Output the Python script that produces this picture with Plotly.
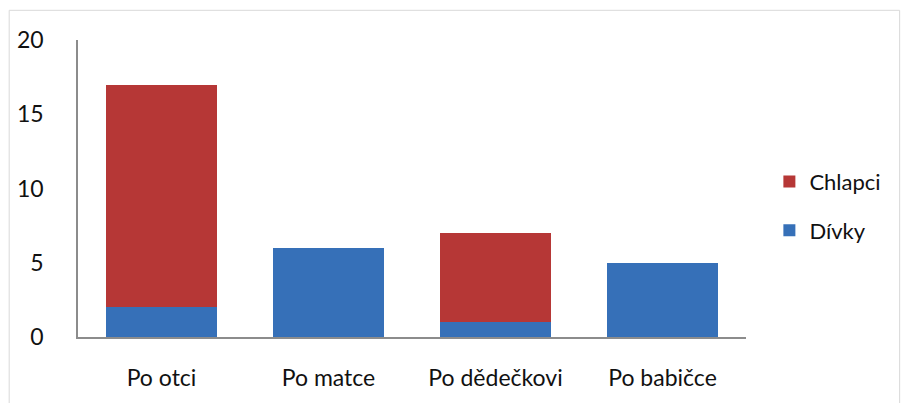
import plotly.graph_objects as go

categories = ["Po otci", "Po matce", "Po dědečkovi", "Po babičce"]
divky = [2, 6, 1, 5]
chlapci = [15, 0, 6, 0]
y_ticks = [0, 5, 10, 15, 20]

FONT = "Lato"
TEXT = "#111111"
AXIS = "#8c8c8c"

fig = go.Figure()
fig.add_trace(go.Bar(
    x=categories, y=divky, name="Dívky", legendgroup="d", legendrank=2,
    marker=dict(color="#3670B8", line=dict(width=0)),
))
fig.add_trace(go.Bar(
    x=categories, y=chlapci, name="Chlapci", legendgroup="c", legendrank=1,
    marker=dict(color="#B63736", line=dict(width=0)),
))

fig.update_layout(
    width=906, height=403,
    barmode="stack", bargap=0.34,
    margin=dict(l=78, r=160, t=40, b=61),
    paper_bgcolor="white", plot_bgcolor="white",
    font=dict(family=FONT, size=23, color=TEXT),
    legend=dict(
        x=1.035, xanchor="left", y=0.44, yanchor="middle",
        traceorder="grouped", tracegroupgap=17,
        font=dict(family=FONT, size=22, color=TEXT),
        itemwidth=30,
    ),
    xaxis=dict(
        showline=True, linecolor=AXIS, linewidth=1.5,
        ticks="", showgrid=False, ticklabelstandoff=20,
        tickfont=dict(size=23),
    ),
    yaxis=dict(
        range=[0, 20], tickvals=y_ticks,
        showline=True, linecolor=AXIS, linewidth=1.5,
        ticks="", showgrid=False, zeroline=False, ticklabelstandoff=28,
        tickfont=dict(size=23),
    ),
    shapes=[dict(
        type="rect", xref="paper", yref="paper",
        x0=-0.103, x1=1.23, y0=-0.3, y1=1.1,
        line=dict(color="#d9d9d9", width=1), layer="below",
    )],
)

fig.write_html("out.html")
